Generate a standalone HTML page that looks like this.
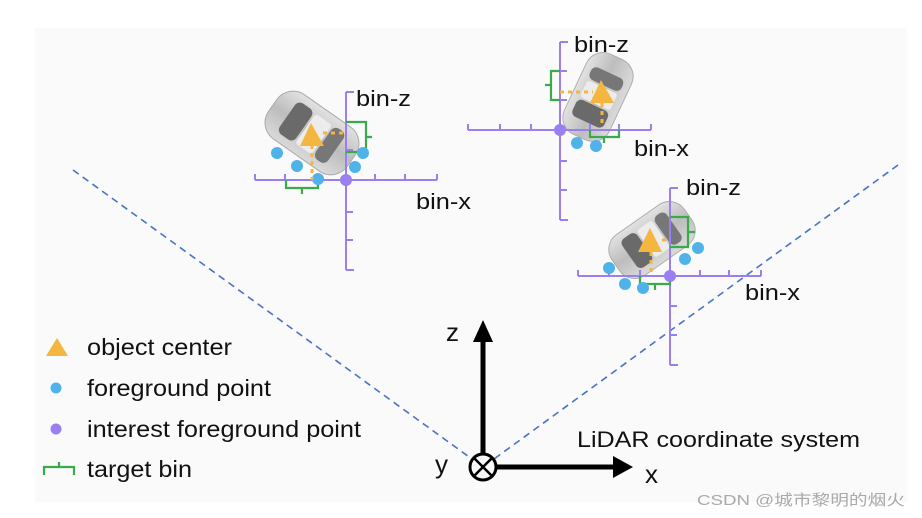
<!DOCTYPE html>
<html><head><meta charset="utf-8"><style>
body{margin:0;width:922px;height:518px;background:#fff;overflow:hidden}
svg{display:block}
text{font-family:"Liberation Sans",Arial,sans-serif;fill:#111}
</style></head><body>
<svg width="922" height="518" viewBox="0 0 922 518" xmlns="http://www.w3.org/2000/svg">
<defs>
<linearGradient id="cg" x1="0" y1="0" x2="0" y2="1">
<stop offset="0" stop-color="#e2e2e2"/><stop offset="0.5" stop-color="#bdbdbd"/><stop offset="1" stop-color="#dadada"/>
</linearGradient>
<g id="car">
<rect x="-48" y="-27" width="96" height="54" rx="20" fill="url(#cg)" stroke="#aaa" stroke-width="1"/>
<rect x="-30" y="-19" width="20" height="38" rx="6" fill="#6a6a6a"/>
<rect x="14" y="-19" width="15" height="38" rx="6" fill="#777"/>
<rect x="-8" y="-18" width="20" height="36" rx="3" fill="#ececec"/>
</g>
</defs>
<rect x="35" y="28" width="872" height="474" fill="#fafafa"/>
<line x1="73" y1="170" x2="483" y2="467" stroke="#4a72c4" stroke-width="1.6" stroke-dasharray="7,5"/>
<line x1="898" y1="165" x2="483" y2="467" stroke="#4a72c4" stroke-width="1.6" stroke-dasharray="7,5"/>

<!-- car 1 -->
<use href="#car" transform="translate(312,133) rotate(35)"/>
<g stroke="#9a7ef2" stroke-width="2" fill="none">
<path d="M346 92V270 M346 92H354 M255 180H437 M255 174V180 M285 174V180 M317 174V180 M375 174V180 M405 174V180 M437 174V180 M346 122H353 M346 150H353 M346 212H353 M346 240H353 M346 270H354"/>
</g>
<g stroke="#3aaa4a" stroke-width="2.2" fill="none"><path d="M346 122H366V152H346 M366 137H372 M286 180V188H318V180 M302 188V194"/></g>
<g fill="#4fb3ea"><circle cx="277" cy="153" r="6"/><circle cx="297" cy="166" r="6"/><circle cx="318" cy="179" r="6"/><circle cx="363" cy="153" r="6"/><circle cx="355" cy="167" r="6"/></g>
<path d="M323 133H347 M312 145V180" stroke="#f4b63f" stroke-width="3" stroke-dasharray="4,4"/>
<polygon points="300,146 324,146 311,123" fill="#f4b63f"/>
<circle cx="346" cy="180" r="6" fill="#9a7ef2"/>
<g font-size="22" lengthAdjust="spacingAndGlyphs">
<text x="356" y="106" textLength="55" lengthAdjust="spacingAndGlyphs">bin-z</text>
<text x="416" y="209" textLength="55" lengthAdjust="spacingAndGlyphs">bin-x</text>
<text x="574" y="52" textLength="55" lengthAdjust="spacingAndGlyphs">bin-z</text>
<text x="634" y="156" textLength="55" lengthAdjust="spacingAndGlyphs">bin-x</text>
<text x="686" y="195" textLength="55" lengthAdjust="spacingAndGlyphs">bin-z</text>
<text x="745" y="300" textLength="55" lengthAdjust="spacingAndGlyphs">bin-x</text>
</g>

<!-- car 2 -->
<use href="#car" transform="translate(598,97) rotate(-65) scale(0.92)"/>
<g stroke="#9a7ef2" stroke-width="2" fill="none">
<path d="M560 42V220 M560 42H568 M468 130H651 M468 124V130 M500 124V130 M531 124V130 M590 124V130 M619 124V130 M651 124V130 M560 71H567 M560 100H567 M560 161H567 M560 190H567 M560 220H568"/>
</g>
<g stroke="#3aaa4a" stroke-width="2.2" fill="none"><path d="M560 71H551V100H560 M551 85H545 M590 130V137H619V130 M604 137V143"/></g>
<g fill="#4fb3ea"><circle cx="577" cy="143" r="6"/><circle cx="596" cy="146" r="6"/></g>
<path d="M560 92H593 M602 103V125" stroke="#f4b63f" stroke-width="3" stroke-dasharray="4,4"/>
<polygon points="590,103 614,103 601,80" fill="#f4b63f"/>
<circle cx="560" cy="130" r="6" fill="#9a7ef2"/>

<!-- car 3 -->
<use href="#car" transform="translate(652,240) rotate(-35) scale(0.92)"/>
<g stroke="#9a7ef2" stroke-width="2" fill="none">
<path d="M670 188V365 M670 188H678 M578 276H761 M578 270V276 M609 270V276 M640 270V276 M700 270V276 M729 270V276 M761 270V276 M670 217H677 M670 247H677 M670 306H677 M670 335H677 M670 365H678"/>
</g>
<g stroke="#3aaa4a" stroke-width="2.2" fill="none"><path d="M670 217H688V247H670 M688 232H695 M640 276V284H670V276 M655 284V290"/></g>
<g fill="#4fb3ea"><circle cx="609" cy="268" r="6"/><circle cx="625" cy="284" r="6"/><circle cx="643" cy="288" r="6"/><circle cx="685" cy="259" r="6"/><circle cx="698" cy="248" r="6"/></g>
<path d="M651 252V276 M662 240H670" stroke="#f4b63f" stroke-width="3" stroke-dasharray="4,4"/>
<polygon points="638,252 662,252 650,228" fill="#f4b63f"/>
<circle cx="670" cy="276" r="6" fill="#9a7ef2"/>

<!-- coord system -->
<line x1="483" y1="467" x2="483" y2="340" stroke="#000" stroke-width="5"/>
<polygon points="473,342 493,342 483,320" fill="#000"/>
<line x1="483" y1="467" x2="615" y2="467" stroke="#000" stroke-width="5"/>
<polygon points="613,456 633,467 613,478" fill="#000"/>
<circle cx="483" cy="467" r="13" fill="#fafafa" stroke="#000" stroke-width="3"/>
<path d="M474 476L492 458 M474 458L492 476" stroke="#000" stroke-width="2.5"/>
<text x="446" y="341" font-size="26">z</text>
<text x="435" y="473" font-size="26">y</text>
<text x="645" y="483" font-size="26">x</text>
<text x="577" y="447" font-size="22" textLength="283" lengthAdjust="spacingAndGlyphs">LiDAR coordinate system</text>

<!-- legend -->
<polygon points="46,356 68,356 57,338" fill="#f4b63f"/>
<circle cx="56" cy="388" r="5.5" fill="#4fb3ea"/>
<circle cx="56" cy="429" r="5.5" fill="#9a7ef2"/>
<path d="M44 475V467H74V475 M59 467V462" stroke="#3aaa4a" stroke-width="2.2" fill="none"/>
<text x="87" y="355" font-size="23" textLength="145" lengthAdjust="spacingAndGlyphs">object center</text>
<text x="87" y="396" font-size="23" textLength="184" lengthAdjust="spacingAndGlyphs">foreground point</text>
<text x="87" y="437" font-size="23" textLength="274" lengthAdjust="spacingAndGlyphs">interest foreground point</text>
<text x="87" y="477" font-size="23" textLength="105" lengthAdjust="spacingAndGlyphs">target bin</text>

<text x="697" y="505" font-size="15" textLength="208" lengthAdjust="spacingAndGlyphs" style="fill:#aaa;font-family:'Liberation Sans','Noto Sans CJK SC',sans-serif">CSDN @城市黎明的烟火</text>
</svg>
</body></html>
